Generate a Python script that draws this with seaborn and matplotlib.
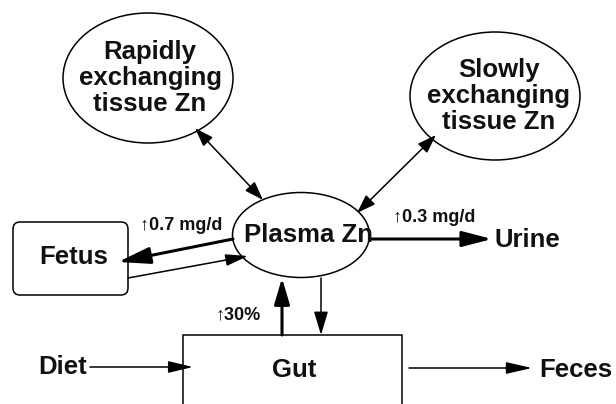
import matplotlib
matplotlib.use("Agg")
import matplotlib.pyplot as plt
import seaborn as sns
from matplotlib.patches import Ellipse, FancyBboxPatch, FancyArrowPatch

# --- diagram content ---
pools = ["Rapidly\nexchanging\ntissue Zn", "Slowly\nexchanging\ntissue Zn", "Plasma Zn"]
boxes = ["Fetus", "Gut"]
ends = ["Diet", "Urine", "Feces"]
flow_labels = ["\u21910.7 mg/d", "\u21910.3 mg/d", "\u219130%"]

# layout (pixel coords, y down)
pool_xy = [(148, 78), (495, 96), (301, 235)]
pool_wh = [(170, 130), (170, 128), (137, 85)]
pool_text_xy = [(150, 78), (499, 96), (309, 235)]
end_xy = [(63, 367), (527, 240), (576, 370)]
label_xy = [(181, 225), (434, 218), (238, 315)]

sns.set_theme(style="white")
plt.rcParams['font.family'] = ['Liberation Sans', 'DejaVu Sans']

fig = plt.figure(figsize=(6.16, 4.04), dpi=100)
ax = fig.add_axes([0, 0, 1, 1])
ax.set_xlim(0, 616)
ax.set_ylim(404, 0)
ax.axis("off")

lw_thin = 1.1
lw_thick = 2.2
big = 18.5
ink = "#111111"

# ellipses
for (cx, cy), (w, h), (tx, ty), name in zip(pool_xy, pool_wh, pool_text_xy, pools):
    ax.add_patch(Ellipse((cx, cy), w, h, fill=False, ec="black", lw=lw_thin))
    ax.text(tx, ty, name, ha="center", va="center", fontsize=big, fontweight="bold",
            linespacing=1.12, color=ink)

# fetus box
ax.add_patch(FancyBboxPatch((13, 222), 115, 73, boxstyle="round,pad=0,rounding_size=7",
                            fill=False, ec="black", lw=lw_thin))
ax.text(74, 257, boxes[0], ha="center", va="center", fontsize=big, fontweight="bold", color=ink)

# gut box (open at bottom, runs off the page)
ax.plot([183, 183, 402, 402], [410, 335, 335, 410], color="black", lw=lw_thin, solid_joinstyle="miter")
ax.text(294, 370, boxes[1], ha="center", va="center", fontsize=big, fontweight="bold", color=ink)

for (x, y), name in zip(end_xy, ends):
    ax.text(x, y, name, ha="center", va="center", fontsize=big, fontweight="bold", color=ink)

for (x, y), lab in zip(label_xy, flow_labels):
    ax.text(x, y, lab, ha="center", va="center", fontsize=13, fontweight="bold", color=ink)


def arrow(p1, p2, style="-|>", lw=lw_thin, hl=14, hw=7):
    # hl = head length, hw = full head width, both in pixels
    s = f"{style},head_length={hl * 0.72 / 4:.2f},head_width={hw * 0.36 / 4:.2f}"
    ax.add_patch(FancyArrowPatch(p1, p2, arrowstyle=s, mutation_scale=4, lw=lw,
                                 color="black", shrinkA=0, shrinkB=0))


# exchanges with tissue pools
arrow((195, 128), (263, 200), "<|-|>", hl=16, hw=11)
arrow((436, 135), (357, 213), "<|-|>", hl=16, hw=11)
# plasma <-> fetus
arrow((233, 239), (118, 262), lw=lw_thick, hl=27, hw=14)
arrow((128, 278), (248, 256), hl=19, hw=10)
# plasma -> urine
arrow((370, 239), (492, 239), lw=lw_thick, hl=25, hw=13)
# gut <-> plasma
arrow((282, 335), (282, 278), lw=lw_thick, hl=22, hw=13)
arrow((321, 278), (321, 335), hl=20, hw=12)
# diet -> gut -> feces
arrow((90, 367), (193, 367), hl=21, hw=10)
arrow((409, 368), (532, 368), hl=22, hw=10)

fig.savefig("out.png", dpi=100, facecolor="white")
